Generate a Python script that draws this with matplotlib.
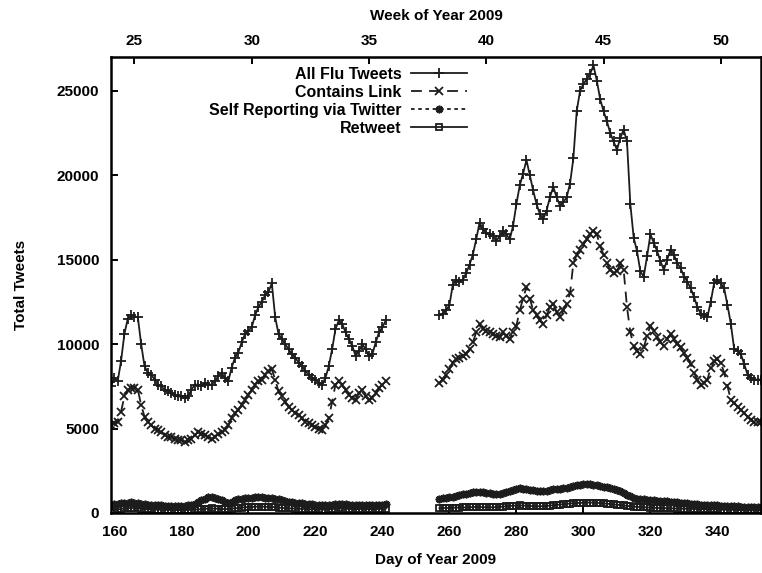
import matplotlib.pyplot as plt
import numpy as np

plt.rcParams['font.family'] = ['Liberation Sans', 'DejaVu Sans']
plt.rcParams['font.weight'] = 'bold'

# день года: два отрезка, между ними пропуск в данных
days_a = list(range(159, 242))
days_b = list(range(257, 354))

all_flu_a = [7500, 8000, 7800, 9000, 10600, 11500, 11700, 11600, 11600, 10000,
             8700, 8300, 8200, 7900, 7600, 7500, 7300, 7200, 7100, 7000,
             6900, 6900, 6800, 6900, 7300, 7600, 7600, 7500, 7700, 7600,
             7600, 7800, 8100, 8300, 8000, 7800, 8600, 9200, 9500, 10100,
             10600, 10800, 11000, 11700, 12200, 12500, 12900, 13100, 13600, 11600,
             10600, 10300, 10000, 9700, 9400, 9200, 8900, 8700, 8400, 8200,
             8000, 7900, 7700, 7600, 8000, 8700, 9700, 10900, 11400, 11200,
             10700, 10300, 9900, 9300, 9600, 10000, 9700, 9300, 9400, 10100,
             10700, 11000, 11400]
all_flu_b = [11700, 11800, 12000, 12300, 13500, 13800, 13700, 13800, 14200, 14700,
             15300, 16200, 17200, 16800, 16600, 16500, 16400, 16100, 16400, 16700,
             16500, 16200, 17000, 18300, 19400, 20100, 20900, 20000, 19100, 18300,
             17700, 17400, 17900, 18700, 19300, 18700, 18200, 18400, 18700, 19500,
             21000, 23800, 25000, 25400, 25700, 26000, 26500, 25600, 24500, 23800,
             23200, 22500, 22000, 21500, 22200, 22700, 22000, 18300, 16300, 15500,
             14300, 14000, 15200, 16500, 16000, 15500, 14900, 14400, 15000, 15600,
             15300, 14800, 14500, 14000, 13700, 13300, 12800, 12200, 11800, 11700,
             11600, 12500, 13600, 13800, 13600, 13300, 12300, 11200, 9700, 9600,
             9400, 8800, 8200, 8000, 7900, 7900, 7900]

link_a = [5200, 5300, 5400, 6000, 6900, 7300, 7400, 7400, 7300, 6400,
          5700, 5400, 5200, 5000, 4900, 4800, 4600, 4500, 4500, 4400,
          4300, 4300, 4200, 4300, 4400, 4600, 4800, 4700, 4600, 4500,
          4400, 4500, 4700, 4800, 4900, 5200, 5600, 5900, 6100, 6400,
          6700, 7000, 7300, 7600, 7800, 7900, 8200, 8400, 8500, 7900,
          7200, 6900, 6600, 6300, 6100, 5900, 5800, 5600, 5400, 5300,
          5200, 5100, 5000, 4900, 5200, 5600, 6600, 7600, 7800, 7600,
          7300, 7000, 6800, 6700, 7100, 7300, 6900, 6700, 6800, 7100,
          7400, 7600, 7800]
link_b = [7700, 7900, 8200, 8500, 8900, 9100, 9200, 9300, 9400, 9700,
          10100, 10700, 11200, 10900, 10800, 10700, 10600, 10500, 10400, 10700,
          10500, 10300, 10700, 11100, 12000, 12700, 13400, 12700, 12000, 11700,
          11400, 11200, 11700, 12200, 12400, 11900, 11600, 12000, 12400, 13000,
          14800, 15300, 15600, 15900, 16200, 16500, 16700, 16500, 15800, 15300,
          14800, 14400, 14200, 14300, 14800, 14400, 12200, 10700, 9900, 9600,
          9400, 9800, 10500, 11100, 10800, 10400, 10100, 9900, 10300, 10600,
          10300, 10000, 9800, 9500, 9200, 8800, 8300, 7900, 7600, 7700,
          7900, 8600, 9000, 9100, 8900, 8300, 7500, 6700, 6500, 6300,
          6100, 5900, 5700, 5500, 5400, 5400, 5400]

self_a = [450, 520, 550, 580, 600, 620, 640, 600, 580, 540,
          520, 500, 480, 470, 460, 450, 440, 440, 430, 420,
          420, 430, 440, 460, 500, 560, 650, 750, 850, 920,
          940, 900, 850, 750, 650, 620, 680, 750, 800, 830,
          860, 880, 900, 920, 930, 920, 900, 880, 870, 840,
          800, 760, 720, 680, 640, 620, 600, 580, 560, 540,
          520, 500, 490, 480, 470, 480, 500, 540, 560, 540,
          520, 500, 480, 460, 470, 480, 470, 460, 450, 470,
          490, 500, 510]
self_b = [850, 880, 900, 920, 950, 1000, 1050, 1100, 1150, 1200,
          1250, 1270, 1260, 1230, 1200, 1180, 1150, 1130, 1150, 1200,
          1250, 1300, 1380, 1430, 1470, 1450, 1420, 1380, 1340, 1300,
          1280, 1300, 1330, 1360, 1400, 1420, 1440, 1460, 1500, 1560,
          1620, 1660, 1680, 1690, 1700, 1690, 1670, 1640, 1600, 1560,
          1520, 1470, 1420, 1370, 1300, 1200, 1080, 980, 900, 850,
          820, 800, 790, 780, 760, 740, 720, 700, 690, 680,
          660, 640, 620, 600, 580, 560, 540, 520, 500, 490,
          480, 470, 460, 450, 440, 430, 420, 410, 400, 390,
          380, 370, 360, 350, 340, 340, 330]

retweet_a = [180, 200, 210, 240, 270, 290, 300, 290, 280, 250,
             230, 220, 210, 200, 200, 190, 190, 180, 180, 170,
             170, 170, 170, 180, 190, 200, 210, 230, 250, 260,
             270, 260, 250, 240, 230, 240, 260, 280, 300, 320,
             340, 350, 360, 370, 380, 380, 370, 360, 360, 340,
             320, 300, 290, 280, 270, 260, 250, 240, 230, 220,
             220, 210, 210, 200, 200, 210, 230, 260, 270, 260,
             250, 240, 230, 220, 230, 240, 230, 220, 220, 230,
             240, 250, 260]
retweet_b = [280, 290, 300, 300, 310, 320, 320, 330, 330, 340,
             350, 360, 360, 350, 340, 340, 340, 350, 360, 380,
             400, 420, 430, 440, 450, 440, 430, 420, 410, 400,
             400, 410, 420, 440, 460, 480, 500, 520, 540, 560,
             580, 590, 600, 610, 620, 620, 610, 600, 590, 570,
             550, 530, 510, 490, 470, 450, 420, 400, 380, 360,
             350, 340, 330, 320, 310, 300, 300, 290, 280, 280,
             270, 260, 260, 250, 250, 240, 240, 230, 230, 220,
             220, 220, 210, 210, 200, 200, 200, 190, 190, 180,
             180, 180, 170, 170, 170, 160, 160]

series = [
    ('All Flu Tweets', all_flu_a, all_flu_b, dict(ls='-', marker='+', ms=6.5)),
    ('Contains Link', link_a, link_b, dict(ls=(0, (6, 4)), marker='x', ms=5.5)),
    ('Self Reporting via Twitter', self_a, self_b, dict(ls=(0, (2, 2)), marker=(8, 2, 0), ms=5.5)),
    ('Retweet', retweet_a, retweet_b, dict(ls='-', marker='s', ms=4, mfc='none')),
]

fig = plt.figure(figsize=(7.62, 5.73), dpi=100)
ax = fig.add_axes([111 / 762, 60 / 573, 650 / 762, 456 / 573])

col = '#1c1c1c'
for name, seg_a, seg_b, st in series:
    ax.plot(days_a, seg_a, color=col, lw=1.3, mew=1.3, label=name, **st)
    ax.plot(days_b, seg_b, color=col, lw=1.3, mew=1.3, **st)

ax.set_xlim(159, 353)
ax.set_ylim(0, 27000)
ax.set_xticks(range(160, 341, 20))
ax.set_yticks(range(0, 25001, 5000))
ax.tick_params(direction='in', length=5, width=1.4, labelsize=11, top=False, right=False)
ax.tick_params(axis='x', pad=9)
ax.tick_params(axis='y', pad=8.5)
for s in ax.spines.values():
    s.set_linewidth(1.8)
ax.set_xlabel('Day of Year 2009', fontsize=11, fontweight='bold', labelpad=10)
ax.set_ylabel('Total Tweets', fontsize=11, fontweight='bold', labelpad=21)

# верхняя ось: недели года
top = ax.secondary_xaxis('top', functions=(lambda d: (d + 9) / 7, lambda w: 7 * w - 9))
top.set_xticks(range(25, 51, 5))
top.tick_params(direction='in', length=5, width=1.4, labelsize=11, pad=6.5)
top.set_xlabel('Week of Year 2009', fontsize=11, fontweight='bold', labelpad=10)

leg = ax.legend(loc='upper right', bbox_to_anchor=(475 / 762, 1 - 59 / 573),
                bbox_transform=fig.transFigure, frameon=False, markerfirst=False,
                fontsize=11.5, borderpad=0, labelspacing=0.18, handlelength=3.5,
                handletextpad=0.6)

fig.savefig('out.png', dpi=100)
